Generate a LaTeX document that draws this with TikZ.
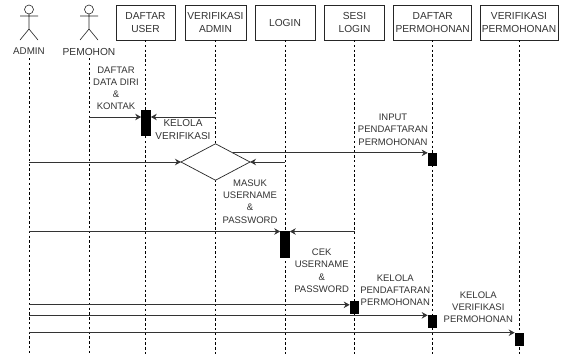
\documentclass[tikz,border=0pt]{standalone}
\usepackage{fontspec}
\setmainfont{Liberation Sans}
\usetikzlibrary{arrows.meta,shapes.geometric}
\definecolor{ink}{HTML}{333333}
\tikzset{
  x=1pt,y=-1pt,
  every node/.style={font=\fontsize{10.2}{12.2}\selectfont,text=ink,inner sep=0pt,outer sep=0pt},
  boxn/.style={draw=black!85,line width=0.7pt,minimum height=35pt,align=center},
  lab/.style={align=center,font=\fontsize{9.5}{12.2}\selectfont},
  life/.style={draw=black,line width=0.6pt,dash pattern=on 2.4pt off 2.4pt},
  msg/.style={draw=black!80,line width=0.8pt,-{Stealth[length=6pt,width=6.5pt]}},
  act/.style={fill=black,draw=none,minimum width=9.6pt},
  stick/.pic={
    \draw[black!85,line width=0.6pt] (0,-20.5) circle (4.5pt);
    \draw[black!85,line width=0.6pt] (0,-16) -- (0,-1) (-9,-14) -- (9,-14) (-9,10) -- (0,-1) -- (9,10);
  }
}
\begin{document}
\begin{tikzpicture}
\useasboundingbox[fill=white] (0,0) rectangle (562,356);
% actors
\pic at (29,30) {stick};
\pic at (89,30) {stick};
\node[font=\fontsize{9.8}{12}\selectfont] (adminlbl) at (29,51.5) {ADMIN};
\node (pemlbl) at (89,51.5) {PEMOHON};
% boxes
\node[boxn,minimum width=59pt] (du) at (145.5,22.5) {DAFTAR\\USER};
\node[boxn,minimum width=61pt] (va) at (215.5,22.5) {VERIFIKASI\\ADMIN};
\node[boxn,minimum width=60pt] (lg) at (285,22.5) {LOGIN};
\node[boxn,minimum width=59.5pt] (sl) at (354.5,22.5) {SESI\\LOGIN};
\node[boxn,minimum width=78pt] (dp) at (432.7,22.5) {DAFTAR\\PERMOHONAN};
\node[boxn,minimum width=78pt] (vp) at (519,22.5) {VERIFIKASI\\PERMOHONAN};
% lifeline ends
\coordinate (eA) at (29,354);
\coordinate (eP) at (89,354);
\coordinate (eDU) at (du.south |- 0,354);
\coordinate (eVA) at (va.south |- 0,354);
\coordinate (eLG) at (lg.south |- 0,354);
\coordinate (eSL) at (sl.south |- 0,354);
\coordinate (eDP) at (dp.south |- 0,354);
\coordinate (eVP) at (vp.south |- 0,354);
\coordinate (sA) at (29,58);
\coordinate (sP) at (89,58);
\draw[life] (sA) -- (eA);
\draw[life] (sP) -- (eP);
\draw[life] (du) -- (eDU);
\draw[life] (va) -- (eVA);
\draw[life] (lg) -- (eLG);
\draw[life] (sl) -- (eSL);
\draw[life] (dp) -- (eDP);
\draw[life] (vp) -- (eVP);
% activations
\node[act,minimum height=26.5pt] (aDU) at (146,122.8) {};
\node[act,minimum height=26.7pt] (aLG) at (285,244.7) {};
\node[act,minimum height=13pt] (aDP) at (432.5,159.6) {};
\node[act,minimum height=13pt] (aSL) at (354.5,307.5) {};
\node[act,minimum height=13pt] (aDP2) at (432.5,321.5) {};
\node[act,minimum height=13pt] (aVP) at (519.5,339) {};
% decision
\node[diamond,aspect=1.9,draw=black!85,line width=0.7pt,fill=white,minimum width=69pt,minimum height=36.5pt] (dec) at (215.5,162) {};
% messages
\coordinate (m1) at (sP |- 0,117);
\coordinate (m2) at (va.south |- 0,117);
\coordinate (m3) at (sA |- dec.west);
\coordinate (m4) at (lg.south |- dec.east);
\coordinate (m5) at (sA |- 0,231.5);
\coordinate (m6) at (sl.south |- 0,231.5);
\coordinate (m7) at (sA |- 0,304.8);
\coordinate (m8) at (sA |- 0,315.3);
\coordinate (m9) at (sA |- 0,332.7);
\draw[msg] (m1) -- (m1 -| aDU.west);
\draw[msg] (m2) -- (m2 -| aDU.east);
\draw[msg] (m3) -- (dec.west);
\draw[msg] (m4) -- (dec.east);
\draw[msg] (dec.north east) -- (dec.north east -| aDP.west);
\draw[msg] (m5) -- (m5 -| aLG.west);
\draw[msg] (m6) -- (m6 -| aLG.east);
\draw[msg] (m7) -- (m7 -| aSL.west);
\draw[msg] (m8) -- (m8 -| aDP2.west);
\draw[msg] (m9) -- (m9 -| aVP.west);
% labels
\node[lab] (t1) at (116,88.3) {DAFTAR\\DATA DIRI\\\&\\KONTAK};
\node[lab,font=\fontsize{10}{13}\selectfont] (t2) at (183,129.5) {KELOLA\\VERIFIKASI};
\node[lab] (t3) at (250,201.5) {MASUK\\USERNAME\\\&\\PASSWORD};
\node[lab] (t4) at (393,129.7) {INPUT\\PENDAFTARAN\\PERMOHONAN};
\node[lab] (t5) at (321.7,270.8) {CEK\\USERNAME\\\&\\PASSWORD};
\node[lab] (t6) at (395.3,290) {KELOLA\\PENDAFTARAN\\PERMOHONAN};
\node[lab] (t7) at (478.3,307) {KELOLA\\VERIFIKASI\\PERMOHONAN};
\end{tikzpicture}
\end{document}
